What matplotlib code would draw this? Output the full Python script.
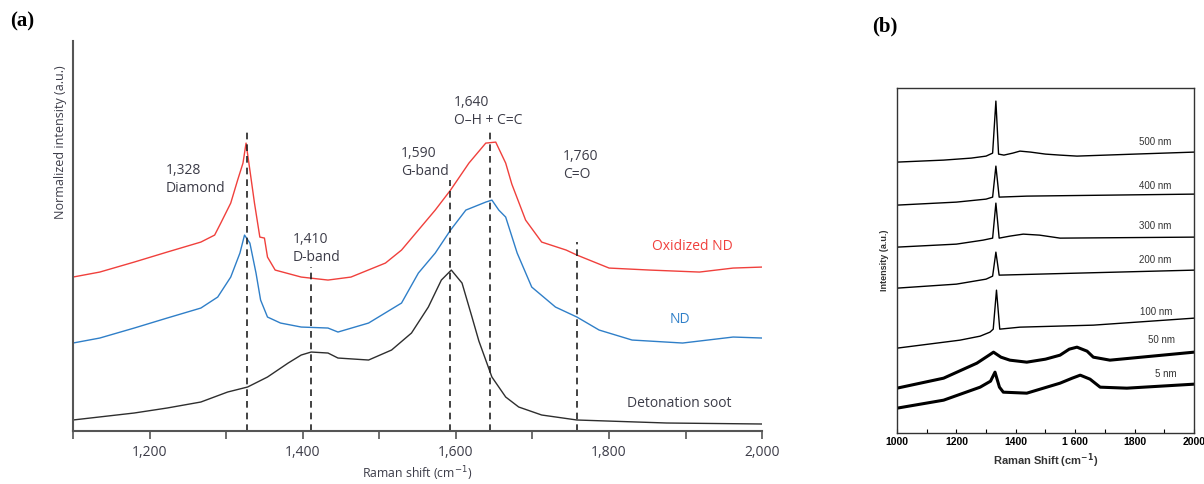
import matplotlib
matplotlib.use("Agg")
import matplotlib.pyplot as plt
from matplotlib.ticker import FixedLocator

# ---- panel (a): Raman spectra, heights in arbitrary units ----
ox_x = [1100, 1135, 1180, 1223, 1267, 1285, 1293, 1306, 1315, 1322, 1326, 1331,
        1337, 1344, 1350, 1354, 1364, 1398, 1433, 1463, 1508, 1529, 1551, 1573,
        1593, 1617, 1639, 1652, 1665, 1673, 1691, 1712, 1744, 1758, 1800, 1853,
        1918, 1962, 2000]
ox_y = [154, 159, 169, 179, 189, 196, 208, 228, 251, 268, 288, 261,
        228, 194, 193, 174, 161, 154, 151, 154, 168, 181, 201, 221,
        241, 268, 288, 289, 268, 247, 211, 189, 181, 176, 163, 161,
        159, 163, 164]

nd_x = [1100, 1135, 1180, 1223, 1267, 1289, 1306, 1318, 1324, 1331, 1339, 1345,
        1354, 1371, 1398, 1433, 1446, 1486, 1529, 1551, 1573, 1593, 1613, 1639,
        1647, 1656, 1665, 1680, 1699, 1730, 1758, 1787, 1830, 1896, 1962, 2000]
nd_y = [88, 93, 103, 113, 123, 134, 154, 178, 196, 188, 158, 131,
        114, 108, 104, 103, 99, 108, 128, 158, 178, 201, 221, 229,
        231, 221, 214, 178, 144, 124, 114, 101, 91, 88, 94, 93]

soot_x = [1100, 1180, 1223, 1267, 1302, 1328, 1354, 1381, 1398, 1411, 1433, 1446,
          1486, 1516, 1542, 1564, 1581, 1594, 1608, 1621, 1630, 1647, 1665, 1682,
          1712, 1758, 1875, 2000]
soot_y = [11, 18, 23, 29, 39, 44, 54, 68, 76, 79, 78, 73,
          71, 81, 98, 124, 151, 161, 148, 114, 90, 54, 34, 24,
          16, 11, 8, 7]

band_pos = [1327, 1411, 1592, 1645, 1758]
band_top = [300, 164, 251, 301, 189]
band_text = ["1,328\nDiamond", "1,410\nD-band", "1,590\nG-band",
             "1,640\nO\u2013H + C=C", "1,760\nC=O"]
band_text_x = [1221, 1387, 1528, 1597, 1740]
band_text_y = [268, 199, 285, 336, 282]

# ---- panel (b): stacked spectra vs film thickness ----
b_labels = ["500 nm", "400 nm", "300 nm", "200 nm", "100 nm", "50 nm", "5 nm"]
b_x = [
    [1000, 1157, 1250, 1300, 1322, 1333, 1342, 1360, 1390, 1414, 1450, 1500,
     1549, 1606, 1800, 2000],
    [1000, 1200, 1300, 1322, 1333, 1344, 1437, 2000],
    [1000, 1200, 1290, 1322, 1333, 1344, 1380, 1425, 1480, 1549, 2000],
    [1000, 1200, 1300, 1322, 1333, 1344, 2000],
    [1000, 1212, 1280, 1313, 1324, 1335, 1346, 1380, 1414, 1661, 2000],
    [1000, 1157, 1269, 1310, 1325, 1350, 1380, 1437, 1500, 1549, 1580, 1606,
     1640, 1661, 1717, 2000],
    [1000, 1157, 1280, 1315, 1330, 1345, 1358, 1437, 1549, 1590, 1617, 1650,
     1684, 1774, 2000],
]
b_y = [
    [271, 273, 275, 277, 280, 332, 279, 278, 280, 282, 281, 279, 278, 277, 279, 281],
    [228, 231, 234, 236, 267, 236, 237, 239],
    [186, 189, 193, 195, 230, 195, 197, 199, 198, 195, 196],
    [145, 149, 154, 157, 181, 158, 163],
    [85, 93, 97, 101, 104, 143, 104, 105, 106, 108, 115],
    [45, 55, 70, 78, 81, 76, 73, 71, 74, 78, 84, 86, 82, 76, 73, 81],
    [25, 33, 46, 52, 61, 46, 41, 40, 50, 55, 58, 54, 46, 45, 49],
]
b_label_x = [1869, 1869, 1869, 1869, 1872, 1889, 1906]
b_label_y = [291, 247, 207, 173, 121, 93, 59]

TXT = "#3c3c48"
RED = "#f0403c"
BLUE = "#2f7fc8"
GREY = "#2e2e2e"

fig = plt.figure(figsize=(12.04, 4.84), dpi=100)

# panel (a)
ax = fig.add_axes([0.0606, 0.1095, 0.5725, 0.8055])
ax.plot(ox_x, ox_y, color=RED, lw=1.0)
ax.plot(nd_x, nd_y, color=BLUE, lw=1.0)
ax.plot(soot_x, soot_y, color=GREY, lw=1.0)
for x, top in zip(band_pos, band_top):
    ax.plot([x, x], [0, top], color="#222222", lw=1.2, ls=(0, (4, 3)))
for tx, ty, s in zip(band_text_x, band_text_y, band_text):
    ax.text(tx, ty, s, ha="left", va="top", fontsize=10, color=TXT,
            family="Open Sans", linespacing=1.25)
ax.text(1909, 185, "Oxidized ND", ha="center", va="center", fontsize=10,
        color=RED, family="Open Sans")
ax.text(1892, 112, "ND", ha="center", va="center", fontsize=10,
        color=BLUE, family="Open Sans")
ax.text(1892, 28, "Detonation soot", ha="center", va="center", fontsize=10,
        color=TXT, family="Open Sans")

ax.set_xlim(1100, 2000)
ax.set_ylim(0, 390)
ax.set_yticks([])
ax.xaxis.set_major_locator(FixedLocator([1200, 1400, 1600, 1800, 2000]))
ax.xaxis.set_minor_locator(FixedLocator([1100, 1300, 1500, 1700, 1900]))
ax.set_xticklabels(["1,200", "1,400", "1,600", "1,800", "2,000"])
ax.tick_params(axis="x", which="both", direction="out", length=6, width=1.2,
               color="#555555", labelsize=10, labelcolor=TXT, pad=4)
for lab in ax.get_xticklabels():
    lab.set_family("Open Sans")
for side in ["top", "right"]:
    ax.spines[side].set_visible(False)
for side in ["left", "bottom"]:
    ax.spines[side].set_color("#555555")
    ax.spines[side].set_linewidth(1.5)
ax.set_xlabel("Raman shift (cm$^{-1}$)", fontsize=8.8, color=TXT,
              family="Open Sans", labelpad=3)
ax.set_ylabel("Normalized intensity (a.u.)", fontsize=9, color=TXT,
              family="Open Sans")
ax.yaxis.set_label_coords(-0.009, 0.74)

# panel (b)
bx = fig.add_axes([0.745, 0.105, 0.2467, 0.713])
for xs, ys, name, lx, ly in zip(b_x, b_y, b_labels, b_label_x, b_label_y):
    lw = 2.2 if name in ("50 nm", "5 nm") else 1.0
    bx.plot(xs, ys, color="black", lw=lw)
    bx.text(lx, ly, name, ha="center", va="center", fontsize=7,
            color="#333333", family="Liberation Sans")
bx.set_xlim(1000, 2000)
bx.set_ylim(0, 345)
bx.set_yticks([])
bx.xaxis.set_major_locator(FixedLocator([1000, 1200, 1400, 1600, 1800, 2000]))
bx.xaxis.set_minor_locator(FixedLocator([1100, 1300, 1500, 1700, 1900]))
bx.set_xticklabels(["1000", "1200", "1400", "1 600", "1800", "2000"])
bx.tick_params(axis="x", which="both", direction="in", length=3, width=0.8,
               labelsize=7.5, pad=3)
for lab in bx.get_xticklabels():
    lab.set_fontweight("bold")
    lab.set_family("Liberation Sans")
for sp in bx.spines.values():
    sp.set_linewidth(1.0)
    sp.set_color("#333333")
bx.set_xlabel("Raman Shift (cm$^{\\mathbf{-1}}$)", fontsize=8, fontweight="bold",
              family="Liberation Sans", color="#333333", labelpad=3)
bx.set_ylabel("Intensity (a.u.)", fontsize=6.5, fontweight="bold",
              family="Liberation Sans", color="#333333", labelpad=6)

fig.text(0.008, 0.955, "(a)", fontsize=15, fontweight="bold",
         family="Liberation Serif", va="center")
fig.text(0.724, 0.945, "(b)", fontsize=15, fontweight="bold",
         family="Liberation Serif", va="center")

fig.savefig("out.png", dpi=100)
plt.close(fig)
